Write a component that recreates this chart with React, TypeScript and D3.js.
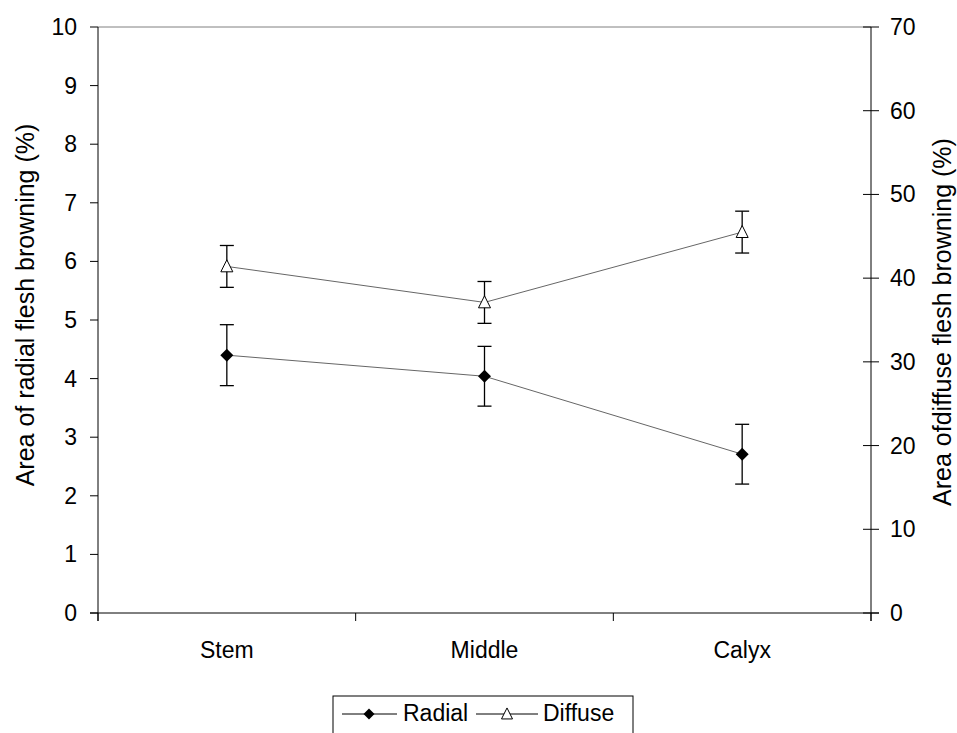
import React from "react";
import * as d3 from "d3";

const categories = ["Stem", "Middle", "Calyx"];
const radialValues = [4.4, 4.04, 2.71];
const radialErrors = [0.52, 0.51, 0.51];
const diffuseValues = [41.4, 37.1, 45.5];
const diffuseErrors = [2.5, 2.5, 2.5];
const leftTicks = [0, 1, 2, 3, 4, 5, 6, 7, 8, 9, 10];
const rightTicks = [0, 10, 20, 30, 40, 50, 60, 70];

export default function App() {
  const W = 957, H = 733;
  const x0 = 98, x1 = 871, yTop = 27, yBot = 613;
  const FS = 23;
  const TFS = 25;
  const band = d3.scaleBand<string>().domain(categories).range([x0, x1]);
  const cx = (c: string) => (band(c) as number) + band.bandwidth() / 2;
  const yL = d3.scaleLinear().domain([0, 10]).range([yBot, yTop]);
  const yR = d3.scaleLinear().domain([0, 70]).range([yBot, yTop]);
  const font = "Arial, 'Liberation Sans', sans-serif";
  const line = d3.line<[number, number]>();
  const radialPts: [number, number][] = categories.map((c, i) => [cx(c), yL(radialValues[i])]);
  const diffusePts: [number, number][] = categories.map((c, i) => [cx(c), yR(diffuseValues[i])]);
  const diamond = (x: number, y: number, s = 6.5) =>
    `M${x},${y - s}L${x + s},${y}L${x},${y + s}L${x - s},${y}Z`;
  const tri = (x: number, y: number, s = 12) =>
    `M${x},${y - s * 0.55}L${x + s / 2},${y + s * 0.45}L${x - s / 2},${y + s * 0.45}Z`;
  const boundaries = [x0, ...categories.map((c) => (band(c) as number) + band.bandwidth())];

  return (
    <svg width={W} height={H} style={{ position: "absolute", left: 0, top: 0 }} fontFamily={font}>
      <rect width={W} height={H} fill="#fff" />
      <line x1={x0} x2={x1} y1={yTop} y2={yTop} stroke="#808080" strokeWidth={1} />
      <line x1={x0} x2={x0} y1={yTop} y2={yBot + 8} stroke="#000" />
      <line x1={x1} x2={x1} y1={yTop} y2={yBot + 8} stroke="#000" />
      <line x1={x0 - 8} x2={x1 + 8} y1={yBot} y2={yBot} stroke="#000" />
      {leftTicks.map((t) => (
        <g key={"l" + t}>
          <line x1={x0 - 8} x2={x0} y1={yL(t)} y2={yL(t)} stroke="#000" />
          <text x={x0 - 21} y={yL(t)} dy="0.35em" textAnchor="end" fontSize={FS}>{t}</text>
        </g>
      ))}
      {rightTicks.map((t) => (
        <g key={"r" + t}>
          <line x1={x1 - 8} x2={x1 + 8} y1={yR(t)} y2={yR(t)} stroke="#000" />
          <text x={x1 + 19} y={yR(t)} dy="0.35em" textAnchor="start" fontSize={FS}>{t}</text>
        </g>
      ))}
      {boundaries.map((b, i) => (
        <line key={"b" + i} x1={b} x2={b} y1={yBot} y2={yBot + 8} stroke="#000" />
      ))}
      {categories.map((c) => (
        <text key={c} x={cx(c)} y={658} textAnchor="middle" fontSize={FS}>{c}</text>
      ))}
      <text transform={`translate(34,305) rotate(-90)`} textAnchor="middle" fontSize={TFS}>
        Area of radial flesh browning (%)
      </text>
      <text transform={`translate(951,322) rotate(-90)`} textAnchor="middle" fontSize={TFS}>
        Area ofdiffuse flesh browning (%)
      </text>
      <path d={line(radialPts) || ""} fill="none" stroke="#666" strokeWidth={1} />
      <path d={line(diffusePts) || ""} fill="none" stroke="#666" strokeWidth={1} />
      {categories.map((c, i) => {
        const x = cx(c);
        const a = yL(radialValues[i] + radialErrors[i]);
        const b = yL(radialValues[i] - radialErrors[i]);
        const a2 = yR(diffuseValues[i] + diffuseErrors[i]);
        const b2 = yR(diffuseValues[i] - diffuseErrors[i]);
        return (
          <g key={"e" + c} stroke="#000" strokeWidth={1.3}>
            <line x1={x} x2={x} y1={a} y2={b} />
            <line x1={x - 7} x2={x + 7} y1={a} y2={a} />
            <line x1={x - 7} x2={x + 7} y1={b} y2={b} />
            <line x1={x} x2={x} y1={a2} y2={b2} />
            <line x1={x - 7} x2={x + 7} y1={a2} y2={a2} />
            <line x1={x - 7} x2={x + 7} y1={b2} y2={b2} />
          </g>
        );
      })}
      {radialPts.map(([x, y], i) => (
        <path key={"d" + i} d={diamond(x, y)} fill="#000" />
      ))}
      {diffusePts.map(([x, y], i) => (
        <path key={"t" + i} d={tri(x, y)} fill="#fff" stroke="#000" strokeWidth={1} />
      ))}
      <rect x={333} y={696} width={300} height={45} fill="#fff" stroke="#000" strokeWidth={1} />
      <line x1={342} x2={397} y1={714} y2={714} stroke="#000" />
      <path d={diamond(369, 714, 5.5)} fill="#000" />
      <text x={403} y={721} fontSize={FS}>Radial</text>
      <line x1={476} x2={538} y1={714} y2={714} stroke="#000" />
      <path d={tri(507, 714, 11)} fill="#fff" stroke="#000" />
      <text x={543} y={721} fontSize={FS}>Diffuse</text>
    </svg>
  );
}
